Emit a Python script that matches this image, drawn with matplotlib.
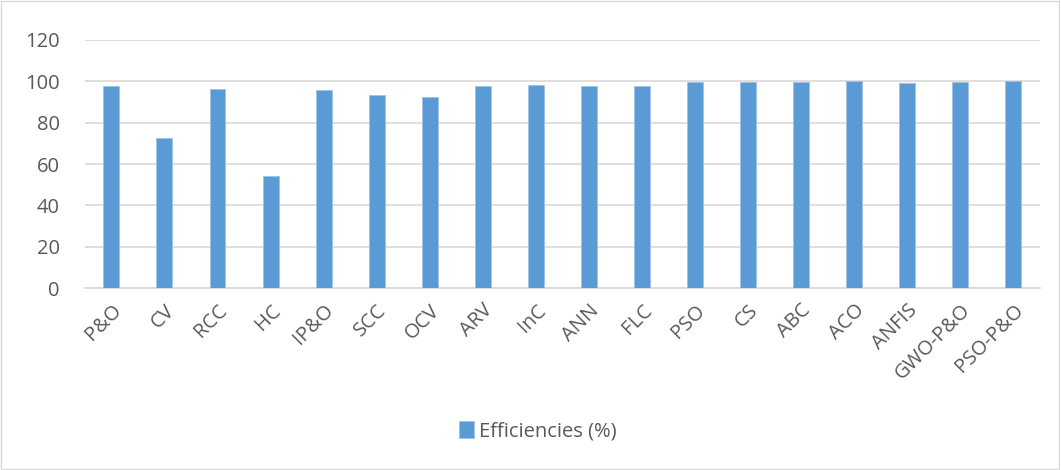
import matplotlib
matplotlib.use('Agg')
import matplotlib.pyplot as plt
import numpy as np

# MPPT techniques and their reported tracking efficiencies
methods = ['P&O', 'CV', 'RCC', 'HC', 'IP&O', 'SCC', 'OCV', 'ARV', 'InC', 'ANN',
           'FLC', 'PSO', 'CS', 'ABC', 'ACO', 'ANFIS', 'GWO-P&O', 'PSO-P&O']
efficiencies = [97.6, 72.6, 96.1, 54.0, 95.8, 93.2, 92.3, 97.7, 98.4, 97.7,
                97.6, 99.7, 99.7, 99.7, 100.0, 99.4, 99.7, 100.0]
yticks = [0, 20, 40, 60, 80, 100, 120]

plt.rcParams['font.family'] = ['Open Sans', 'DejaVu Sans']
text_color = '#595959'

fig = plt.figure(figsize=(10.61, 4.70), dpi=100)
ax = fig.add_axes([0.080, 0.387, 0.900, 0.528])

x = np.arange(len(methods))
ax.bar(x, efficiencies, width=0.3, color='#5B9BD5', edgecolor='#9DC3E6',
       linewidth=0.6, zorder=3, label='Efficiencies (%)')

ax.set_ylim(0, 120)
ax.set_yticks(yticks)
ax.set_xlim(-0.5, len(methods) - 0.5)
ax.set_xticks(x)
ax.set_xticklabels(methods, rotation=45, ha='right', rotation_mode='anchor')
ax.yaxis.grid(True, color='#D9D9D9', linewidth=1.2, zorder=0)
ax.tick_params(axis='both', length=0, colors=text_color, labelsize=14.5)
ax.tick_params(axis='x', pad=9)
ax.tick_params(axis='y', pad=18)
for side in ['top', 'right', 'left']:
    ax.spines[side].set_visible(False)
ax.spines['bottom'].set_color('#D9D9D9')
ax.spines['bottom'].set_linewidth(1.2)

fig.legend(loc='center', bbox_to_anchor=(0.507, 0.083), frameon=False,
           fontsize=14.5, handlelength=0.75, handleheight=0.95,
           handletextpad=0.25, labelcolor=text_color)

# light frame round the whole chart
fig.add_artist(plt.Rectangle((0.001, 0.003), 0.997, 0.994, transform=fig.transFigure,
                             fill=False, edgecolor='#D9D9D9', linewidth=1.0))

fig.savefig('out.png', dpi=100)
